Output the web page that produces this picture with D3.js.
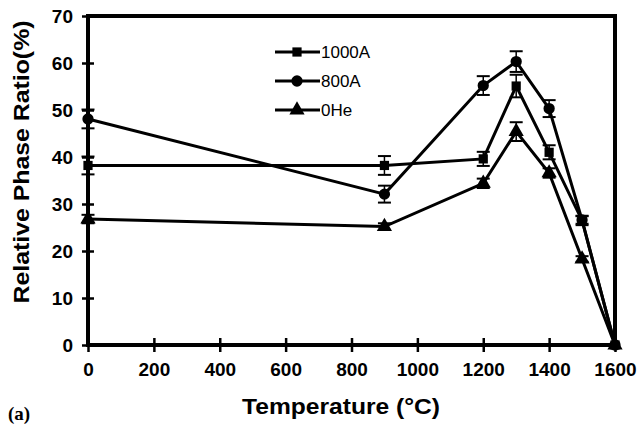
<!DOCTYPE html>
<html>
<head>
<meta charset="utf-8">
<script src="https://cdn.jsdelivr.net/npm/d3@7"></script>
<style>
  html, body { margin: 0; padding: 0; background: #fff; }
  svg { display: block; }
  text { font-family: Arial, "Liberation Sans", Helvetica, sans-serif; fill: #000; }
</style>
</head>
<body>
<svg id="chart" width="639" height="426"></svg>
<script>
// Annealing temperature (°C)
const temperatures = [0, 900, 1200, 1300, 1400, 1500, 1600];

// Relative phase ratio (%) for each implantation condition
const series1000A = [38.2, 38.2, 39.6, 55.1, 41.0, 26.5, 0];
const err1000A    = [1.9, 2.0, 1.5, 2.4, 1.5, 1.0, 0];
const series800A  = [48.1, 32.1, 55.2, 60.3, 50.3, 26.6, 0];
const err800A     = [2.0, 1.8, 2.0, 2.2, 1.8, 0.8, 0];
const series0He   = [26.8, 25.2, 34.4, 45.4, 36.6, 18.3, 0];
const err0He      = [0.9, 0.7, 1.0, 2.0, 1.0, 0.6, 0];

const seriesNames = ["1000A", "800A", "0He"];
const seriesShapes = [d3.symbolSquare, d3.symbolCircle, d3.symbolTriangle];
const seriesSizes = [85, 100, 100];

const xTicks = [0, 200, 400, 600, 800, 1000, 1200, 1400, 1600];
const yTicks = [0, 10, 20, 30, 40, 50, 60, 70];

const svg = d3.select("#chart");
const plotLeft = 88, plotRight = 615, plotTop = 16, plotBottom = 345;

const x = d3.scaleLinear().domain([0, 1600]).range([plotLeft, plotRight]);
const y = d3.scaleLinear().domain([0, 70]).range([plotBottom, plotTop]);

const allSeries = [
  { name: seriesNames[0], values: series1000A, errs: err1000A, shape: seriesShapes[0], size: seriesSizes[0] },
  { name: seriesNames[1], values: series800A,  errs: err800A,  shape: seriesShapes[1], size: seriesSizes[1] },
  { name: seriesNames[2], values: series0He,   errs: err0He,   shape: seriesShapes[2], size: seriesSizes[2] }
];

// Frame: top and right border
svg.append("line").attr("x1", plotLeft).attr("x2", plotRight).attr("y1", plotTop).attr("y2", plotTop)
  .attr("stroke", "#000").attr("stroke-width", 4);
svg.append("line").attr("x1", plotRight).attr("x2", plotRight).attr("y1", plotTop - 2).attr("y2", plotBottom + 2)
  .attr("stroke", "#000").attr("stroke-width", 4);

// X axis (ticks cross the axis line)
const xAxis = svg.append("g").attr("transform", `translate(0,${plotBottom})`)
  .call(d3.axisBottom(x).tickValues(xTicks).tickSize(0).tickPadding(18).tickFormat(d3.format("d")));
xAxis.select(".domain").attr("stroke-width", 4).attr("d", `M${plotLeft - 2},0H${plotRight + 2}`);
xAxis.selectAll(".tick line").attr("y1", -7).attr("y2", 7).attr("stroke-width", 2.5);
xAxis.selectAll(".tick text").attr("font-size", 19).attr("font-weight", "bold");

// Y axis
const yAxis = svg.append("g").attr("transform", `translate(${plotLeft},0)`)
  .call(d3.axisLeft(y).tickValues(yTicks).tickSize(0).tickPadding(15));
yAxis.select(".domain").attr("stroke-width", 4).attr("d", `M0,${plotBottom + 2}V${plotTop - 2}`);
yAxis.selectAll(".tick line").attr("x1", -6).attr("x2", 6).attr("stroke-width", 2.5);
yAxis.selectAll(".tick text").attr("font-size", 19).attr("font-weight", "bold");

// Axis titles
svg.append("text").attr("x", 341).attr("y", 414).attr("text-anchor", "middle")
  .attr("font-size", 22).attr("font-weight", "bold")
  .attr("textLength", 198).attr("lengthAdjust", "spacingAndGlyphs")
  .text("Temperature (°C)");
svg.append("text").attr("transform", "translate(29,162) rotate(-90)").attr("text-anchor", "middle")
  .attr("font-size", 22).attr("font-weight", "bold")
  .attr("textLength", 283).attr("lengthAdjust", "spacingAndGlyphs")
  .text("Relative Phase Ratio(%)");
svg.append("text").attr("x", 8).attr("y", 420)
  .style("font-family", "'Liberation Serif', 'DejaVu Serif', serif")
  .attr("font-size", 19).attr("font-weight", "bold").text("(a)");

// Series lines, error bars and markers
const line = d3.line().x((d, i) => x(temperatures[i])).y(d => y(d));

allSeries.forEach(s => {
  svg.append("path").datum(s.values).attr("d", line)
    .attr("fill", "none").attr("stroke", "#000").attr("stroke-width", 3);

  const eb = svg.append("g");
  s.values.forEach((v, i) => {
    if (s.errs[i] <= 0) return;
    const cx = x(temperatures[i]);
    eb.append("line").attr("x1", cx).attr("x2", cx)
      .attr("y1", y(v - s.errs[i])).attr("y2", y(v + s.errs[i]))
      .attr("stroke", "#000").attr("stroke-width", 1.5);
    [v - s.errs[i], v + s.errs[i]].forEach(e => {
      eb.append("line").attr("x1", cx - 6.5).attr("x2", cx + 6.5)
        .attr("y1", y(e)).attr("y2", y(e))
        .attr("stroke", "#000").attr("stroke-width", 2);
    });
  });

  svg.append("g").selectAll("path").data(s.values).join("path")
    .attr("transform", (d, i) => `translate(${x(temperatures[i])},${y(d)})`)
    .attr("d", d3.symbol().type(s.shape).size(s.size))
    .attr("fill", "#000");
});

// Legend
const legend = svg.append("g");
allSeries.forEach((s, i) => {
  const ly = 52 + i * 29;
  legend.append("line").attr("x1", 275).attr("x2", 320).attr("y1", ly).attr("y2", ly)
    .attr("stroke", "#000").attr("stroke-width", 3);
  legend.append("path").attr("transform", `translate(297,${ly})`)
    .attr("d", d3.symbol().type(s.shape).size(s.size)).attr("fill", "#000");
  legend.append("text").attr("x", 321).attr("y", ly + 6)
    .attr("font-size", 17).text(s.name);
});
</script>
</body>
</html>
